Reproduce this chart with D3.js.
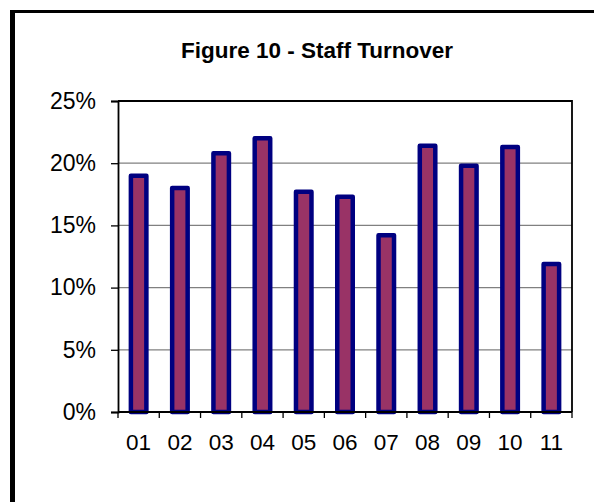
<!DOCTYPE html>
<html>
<head>
<meta charset="utf-8">
<script src="https://cdn.jsdelivr.net/npm/d3@7"></script>
<style>
  body { margin: 0; background: #fff; }
  svg { display: block; }
  text { font-family: Arial, "Liberation Sans", sans-serif; fill: #000; }
</style>
</head>
<body>
<svg id="chart" width="594" height="502"></svg>
<script>
var categories = ["01", "02", "03", "04", "05", "06", "07", "08", "09", "10", "11"];
var turnover = [0.190, 0.180, 0.208, 0.220, 0.177, 0.173, 0.142, 0.214, 0.198, 0.213, 0.119];
var yTicks = [0, 0.05, 0.10, 0.15, 0.20, 0.25];
var title = "Figure 10 - Staff Turnover";

var svg = d3.select("#chart");

// chart area frame (only top and left edges are inside the picture)
svg.append("line").attr("x1", 12.5).attr("x2", 594).attr("y1", 11.5).attr("y2", 11.5)
  .attr("stroke", "#000").attr("stroke-width", 3);
svg.append("line").attr("x1", 12.5).attr("x2", 12.5).attr("y1", 10).attr("y2", 502)
  .attr("stroke", "#000").attr("stroke-width", 5);

var plot = {left: 118, right: 572, top: 101, bottom: 412};

var x = d3.scaleBand().domain(categories).range([plot.left, plot.right]);
var y = d3.scaleLinear().domain([0, 0.25]).range([plot.bottom, plot.top]);

svg.append("text")
  .attr("x", 317).attr("y", 58)
  .attr("text-anchor", "middle")
  .style("font-size", "22.5px").style("font-weight", "bold")
  .text(title);

// gridlines
svg.append("g").selectAll("line")
  .data(yTicks.filter(function(d) { return d > 0 && d < 0.25; }))
  .enter().append("line")
  .attr("x1", plot.left).attr("x2", plot.right)
  .attr("y1", function(d) { return y(d); }).attr("y2", function(d) { return y(d); })
  .attr("stroke", "#808080").attr("stroke-width", 1.3);

// plot border top / right
svg.append("path")
  .attr("d", "M" + plot.left + "," + plot.top + "H" + plot.right + "V" + plot.bottom)
  .attr("fill", "none").attr("stroke", "#000").attr("stroke-width", 1.8);

// y axis
var yAxis = d3.axisLeft(y).tickValues(yTicks).tickSize(7).tickPadding(15)
  .tickFormat(d3.format(".0%"));
var gy = svg.append("g").attr("transform", "translate(" + plot.left + ",0)").call(yAxis);
gy.select(".domain").attr("stroke-width", 1.8);
gy.selectAll(".tick line").attr("stroke-width", 1.3);
gy.selectAll("text").style("font-size", "23px").attr("font-family", null);

// bars
svg.append("g").selectAll("rect")
  .data(turnover)
  .enter().append("rect")
  .attr("x", function(d, i) { return x(categories[i]) + x.bandwidth() / 2 - 7.75; })
  .attr("width", 15.5)
  .attr("y", function(d) { return y(d); })
  .attr("height", function(d) { return y(0) - y(d); })
  .attr("fill", "#993366")
  .attr("stroke", "#000080")
  .attr("stroke-width", 4.5)
  .attr("stroke-linejoin", "round");

// x axis with ticks between categories
var xEdges = d3.scaleLinear().domain([0, categories.length]).range([plot.left, plot.right]);
var gx = svg.append("g").attr("transform", "translate(0," + plot.bottom + ")");
gx.append("line").attr("x1", plot.left).attr("x2", plot.right)
  .attr("stroke", "#000").attr("stroke-width", 1.8);
gx.selectAll(".edge").data(d3.range(categories.length + 1)).enter().append("line")
  .attr("class", "edge")
  .attr("x1", function(d) { return xEdges(d); }).attr("x2", function(d) { return xEdges(d); })
  .attr("y1", 0).attr("y2", 6)
  .attr("stroke", "#000").attr("stroke-width", 1.3);
gx.selectAll("text").data(categories).enter().append("text")
  .attr("x", function(d) { return x(d) + x.bandwidth() / 2; })
  .attr("y", 38)
  .attr("text-anchor", "middle")
  .style("font-size", "22.5px")
  .text(function(d) { return d; });
</script>
</body>
</html>
